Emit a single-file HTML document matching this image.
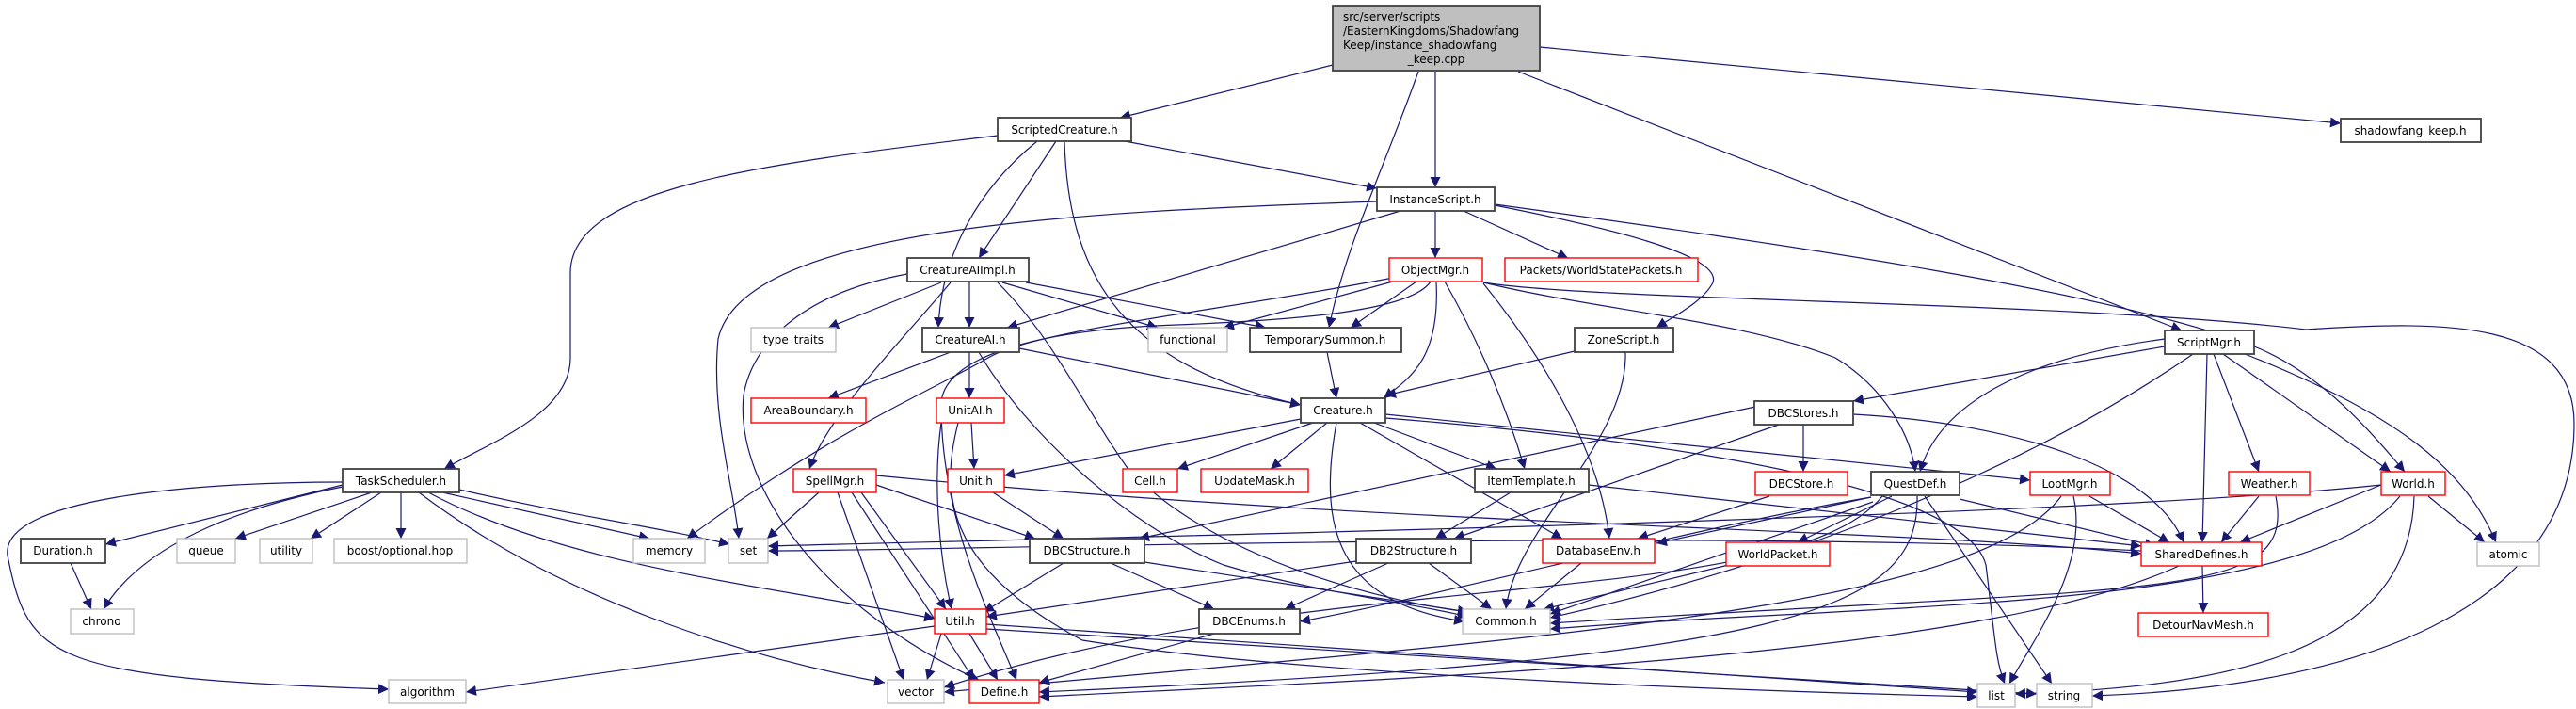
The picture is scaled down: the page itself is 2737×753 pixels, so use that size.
<!DOCTYPE html>
<html><head><meta charset="utf-8"><style>
html,body{margin:0;padding:0;background:#fff;}
svg{display:block;}
text{font-family:"DejaVu Sans","Liberation Sans",sans-serif;font-size:12px;fill:#000;}
.e{fill:none;stroke:#191970;stroke-width:1.2;}
.b{fill:#fff;stroke:#404040;stroke-width:1.8;}
.r{fill:#fff;stroke:#ff0000;stroke-width:1.4;}
.g{fill:#fff;stroke:#bfbfbf;stroke-width:1.4;}
</style></head><body>
<svg width="2737" height="753" viewBox="0 0 2737 753" xmlns="http://www.w3.org/2000/svg">
<defs><marker id="a" viewBox="0 0 10 10" refX="10" refY="5" markerWidth="11" markerHeight="11" markerUnits="userSpaceOnUse" orient="auto"><path d="M0,0 L10,5 L0,10 z" fill="#191970"/></marker></defs>
<g class="e" marker-end="url(#a)">
<!-- main -->
<path d="M1416,69 L1190,125"/>
<path d="M1507,76 C1470,180 1430,260 1412,348"/>
<path d="M1525,76 L1525,199"/>
<path d="M1613,76 L2318,351"/>
<path d="M1636,50 L2487,131"/>
<!-- ScriptedCreature -->
<path d="M1060,144 C800,175 606,200 606,290 L606,380 C606,440 520,470 472,498"/>
<path d="M1102,150 C1040,200 1000,270 997,348"/>
<path d="M1122,150 L1040,274"/>
<path d="M1131,150 C1135,300 1200,390 1382,430"/>
<path d="M1195,150 L1463,200"/>
<!-- InstanceScript -->
<path d="M1463,214 C1150,225 790,240 763,360 C755,440 780,520 785,572"/>
<path d="M1488,224 L1070,348"/>
<path d="M1525,224 L1525,274"/>
<path d="M1555,224 L1666,274"/>
<path d="M1588,218 C1700,240 1830,270 1820,300 C1810,320 1780,335 1760,348"/>
<path d="M1588,217 C1900,260 2250,310 2400,370 C2470,400 2520,460 2555,501"/>
<!-- CreatureAIImpl -->
<path d="M1000,300 L880,348"/>
<path d="M1030,300 L1030,348"/>
<path d="M1065,300 L1230,348"/>
<path d="M1090,300 L1345,348"/>
<path d="M1010,300 C960,360 880,440 860,498"/>
<path d="M964,291 C860,310 800,360 790,420 C780,520 880,650 1040,722"/>
<path d="M1060,300 C1120,360 1150,430 1200,500 C1300,600 1480,640 1560,650"/>
<!-- CreatureAI -->
<path d="M1010,374 L880,423"/>
<path d="M1030,374 L1030,423"/>
<path d="M1083,370 L1382,430"/>
<path d="M1040,374 C1090,460 1200,560 1300,600 C1400,630 1500,640 1560,655"/>
<!-- ObjectMgr -->
<path d="M1480,299 L1300,348"/>
<path d="M1505,299 L1435,348"/>
<path d="M1526,299 C1530,380 1500,400 1470,423"/>
<path d="M1535,299 C1570,360 1600,430 1620,498"/>
<path d="M1576,301 C1640,380 1700,480 1710,572"/>
<path d="M1576,300 C1700,330 1850,340 1950,380 C2000,410 2030,460 2035,501"/>
<path d="M1576,300 C1700,320 2200,320 2450,350 C2600,340 2735,340 2735,450 C2735,650 2500,730 2223,739"/>
<path d="M1480,295 C1300,330 1100,350 1050,380 C980,420 880,460 730,572"/>
<path d="M1520,299 C1500,330 1380,340 1250,345 C1100,350 1000,380 1000,430 C1000,550 1050,650 1080,722"/>
<!-- misc -->
<path d="M1410,374 L1420,423"/>
<path d="M1673,373 L1472,420"/>
<path d="M1727,374 C1730,470 1610,560 1600,647"/>
<!-- Creature -->
<path d="M1382,445 L1067,505"/>
<path d="M1395,449 L1251,498"/>
<path d="M1410,449 L1350,498"/>
<path d="M1460,449 L1590,498"/>
<path d="M1445,449 L1660,572"/>
<path d="M1420,449 C1400,560 1420,640 1556,660"/>
<path d="M1472,440 L2157,510"/>
<path d="M1472,444 C1800,470 2090,520 2110,600 C2120,680 2120,700 2130,726"/>
<!-- UnitAI -->
<path d="M1032,449 L1035,498"/>
<path d="M1018,449 C1000,520 1000,600 1150,680 C1400,720 1900,735 2101,740"/>
<path d="M1000,449 C990,520 1000,600 1011,647"/>
<path d="M1055,523 L1130,572"/>
<!-- ItemTemplate -->
<path d="M1605,523 L1525,572"/>
<path d="M1688,515 L2275,580"/>
<!-- DBCStores -->
<path d="M1865,432 L1210,572"/>
<path d="M1890,451 L1545,572"/>
<path d="M1916,451 L1916,501"/>
<path d="M1969,440 C2150,450 2290,500 2320,576"/>
<path d="M1880,527 L1740,572"/>
<!-- QuestDef -->
<path d="M1988,528 L1760,577"/>
<path d="M2082,530 L2290,580"/>
<path d="M2010,527 L1910,576"/>
<path d="M2045,527 L2180,726"/>
<path d="M2000,527 C1900,650 1400,600 1003,730"/>
<path d="M2037,527 C2040,650 1900,700 1104,735"/>
<path d="M1990,533 L1647,652"/>
<path d="M1988,528 C1800,560 1500,640 1381,660"/>
<!-- LootMgr -->
<path d="M2220,527 L2305,576"/>
<path d="M2203,527 C2220,600 2160,680 2135,726"/>
<path d="M2190,527 C2100,650 1600,680 1003,735"/>
<!-- Weather -->
<path d="M2400,527 L2360,576"/>
<path d="M2418,527 C2440,640 2300,620 1647,662"/>
<!-- World -->
<path d="M2530,515 L2380,576"/>
<path d="M2580,527 L2640,576"/>
<path d="M2565,527 C2560,700 2350,730 2141,737"/>
<path d="M2530,515 C2200,550 1200,570 816,580"/>
<path d="M2550,527 C2450,650 2000,640 1647,668"/>
<!-- ScriptMgr -->
<path d="M2300,368 L1969,426"/>
<path d="M2300,360 C2150,380 2060,430 2040,501"/>
<path d="M2345,376 L2340,576"/>
<path d="M2352,376 L2400,501"/>
<path d="M2362,376 L2540,501"/>
<path d="M2380,374 C2550,440 2620,500 2652,576"/>
<path d="M2330,376 C2150,500 1900,600 1647,656"/>
<!-- SharedDefines -->
<path d="M2340,601 L2341,651"/>
<path d="M2315,601 C2100,700 1500,720 1104,740"/>
<path d="M2275,585 C1800,560 1000,585 816,585"/>
<!-- SpellMgr -->
<path d="M870,523 L815,572"/>
<path d="M931,515 L1100,572"/>
<path d="M931,505 C1500,560 2000,560 2275,588"/>
<path d="M890,523 L960,722"/>
<path d="M905,523 L1035,722"/>
<path d="M915,523 L1005,647"/>
<!-- TaskScheduler -->
<path d="M364,515 L112,578"/>
<path d="M364,517 C250,540 150,580 110,647"/>
<path d="M395,523 L250,572"/>
<path d="M405,523 L330,572"/>
<path d="M426,523 L426,572"/>
<path d="M470,523 L690,572"/>
<path d="M488,520 C620,550 700,560 775,578"/>
<path d="M445,523 C600,640 800,700 940,725"/>
<path d="M455,523 C600,600 800,620 993,657"/>
<path d="M364,512 C200,512 0,530 8,590 C30,700 50,720 413,732"/>
<path d="M75,598 L97,647"/>
<!-- structures -->
<path d="M1130,598 L1045,650"/>
<path d="M1180,598 L1290,647"/>
<path d="M1216,597 L1560,650"/>
<path d="M1475,598 L1365,647"/>
<path d="M1518,598 L1585,647"/>
<path d="M1441,596 L1048,655"/>
<path d="M1680,598 L1620,647"/>
<path d="M1845,598 L1640,647"/>
<path d="M1290,673 L1104,725"/>
<!-- Util -->
<path d="M993,665 L495,735"/>
<path d="M1000,673 L985,722"/>
<path d="M1030,673 L1060,722"/>
<path d="M1048,663 L2101,735"/>
<path d="M1048,668 L2164,737"/>
</g>
<!-- nodes -->
<rect x="1416" y="6" width="220" height="69" fill="#bfbfbf" stroke="#404040" stroke-width="1.8"/>
<text x="1427" y="22">src/server/scripts</text>
<text x="1427" y="37">/EasternKingdoms/Shadowfang</text>
<text x="1427" y="52">Keep/instance_shadowfang</text>
<text x="1526" y="67" text-anchor="middle">_keep.cpp</text>
<g text-anchor="middle">
<rect class="b" x="1060" y="125" width="142" height="25"/><text x="1131" y="142">ScriptedCreature.h</text>
<rect class="b" x="2487" y="126" width="149" height="25"/><text x="2561" y="143">shadowfang_keep.h</text>
<rect class="b" x="1463" y="199" width="125" height="25"/><text x="1525" y="216">InstanceScript.h</text>
<rect class="b" x="964" y="274" width="129" height="25"/><text x="1028" y="291">CreatureAIImpl.h</text>
<rect class="r" x="1476" y="274" width="99" height="25"/><text x="1525" y="291">ObjectMgr.h</text>
<rect class="r" x="1599" y="274" width="205" height="25"/><text x="1701" y="291">Packets/WorldStatePackets.h</text>
<rect class="g" x="798" y="348" width="90" height="26"/><text x="843" y="365">type_traits</text>
<rect class="b" x="980" y="348" width="103" height="26"/><text x="1031" y="365">CreatureAI.h</text>
<rect class="g" x="1220" y="348" width="84" height="26"/><text x="1262" y="365">functional</text>
<rect class="b" x="1328" y="348" width="161" height="26"/><text x="1408" y="365">TemporarySummon.h</text>
<rect class="b" x="1673" y="348" width="105" height="26"/><text x="1725" y="365">ZoneScript.h</text>
<rect class="b" x="2300" y="351" width="95" height="25"/><text x="2347" y="368">ScriptMgr.h</text>
<rect class="r" x="798" y="423" width="122" height="26"/><text x="859" y="440">AreaBoundary.h</text>
<rect class="r" x="995" y="423" width="72" height="26"/><text x="1031" y="440">UnitAI.h</text>
<rect class="b" x="1382" y="423" width="90" height="26"/><text x="1427" y="440">Creature.h</text>
<rect class="b" x="1864" y="426" width="105" height="25"/><text x="1916" y="443">DBCStores.h</text>
<rect class="b" x="364" y="498" width="124" height="25"/><text x="426" y="515">TaskScheduler.h</text>
<rect class="r" x="843" y="498" width="88" height="25"/><text x="887" y="515">SpellMgr.h</text>
<rect class="r" x="1007" y="498" width="60" height="25"/><text x="1037" y="515">Unit.h</text>
<rect class="r" x="1193" y="498" width="58" height="25"/><text x="1222" y="515">Cell.h</text>
<rect class="r" x="1276" y="498" width="114" height="25"/><text x="1333" y="515">UpdateMask.h</text>
<rect class="b" x="1567" y="498" width="121" height="25"/><text x="1627" y="515">ItemTemplate.h</text>
<rect class="r" x="1865" y="501" width="98" height="25"/><text x="1914" y="518">DBCStore.h</text>
<rect class="b" x="1988" y="501" width="94" height="25"/><text x="2035" y="518">QuestDef.h</text>
<rect class="r" x="2157" y="501" width="85" height="25"/><text x="2199" y="518">LootMgr.h</text>
<rect class="r" x="2368" y="501" width="86" height="25"/><text x="2411" y="518">Weather.h</text>
<rect class="r" x="2530" y="501" width="68" height="25"/><text x="2564" y="518">World.h</text>
<rect class="b" x="22" y="572" width="90" height="26"/><text x="67" y="589">Duration.h</text>
<rect class="g" x="188" y="572" width="62" height="26"/><text x="219" y="589">queue</text>
<rect class="g" x="276" y="572" width="56" height="26"/><text x="304" y="589">utility</text>
<rect class="g" x="355" y="572" width="141" height="26"/><text x="425" y="589">boost/optional.hpp</text>
<rect class="g" x="673" y="572" width="76" height="26"/><text x="711" y="589">memory</text>
<rect class="g" x="774" y="572" width="42" height="26"/><text x="795" y="589">set</text>
<rect class="b" x="1094" y="572" width="122" height="26"/><text x="1155" y="589">DBCStructure.h</text>
<rect class="b" x="1441" y="572" width="122" height="26"/><text x="1502" y="589">DB2Structure.h</text>
<rect class="r" x="1639" y="572" width="119" height="26"/><text x="1698" y="589">DatabaseEnv.h</text>
<rect class="r" x="1834" y="576" width="110" height="25"/><text x="1889" y="593">WorldPacket.h</text>
<rect class="r" x="2275" y="576" width="128" height="25"/><text x="2339" y="593">SharedDefines.h</text>
<rect class="g" x="2632" y="576" width="66" height="25"/><text x="2665" y="593">atomic</text>
<rect class="g" x="75" y="647" width="67" height="26"/><text x="108" y="664">chrono</text>
<rect class="r" x="993" y="647" width="55" height="26"/><text x="1020" y="664">Util.h</text>
<rect class="b" x="1274" y="647" width="107" height="26"/><text x="1327" y="664">DBCEnums.h</text>
<rect class="g" x="1554" y="647" width="93" height="26"/><text x="1600" y="664">Common.h</text>
<rect class="r" x="2272" y="651" width="138" height="25"/><text x="2341" y="668">DetourNavMesh.h</text>
<rect class="g" x="413" y="722" width="82" height="25"/><text x="454" y="739">algorithm</text>
<rect class="g" x="943" y="722" width="60" height="25"/><text x="973" y="739">vector</text>
<rect class="r" x="1030" y="722" width="74" height="25"/><text x="1067" y="739">Define.h</text>
<rect class="g" x="2101" y="726" width="40" height="25"/><text x="2121" y="743">list</text>
<rect class="g" x="2164" y="726" width="59" height="25"/><text x="2193" y="743">string</text>
</g>
</svg>
</body></html>
